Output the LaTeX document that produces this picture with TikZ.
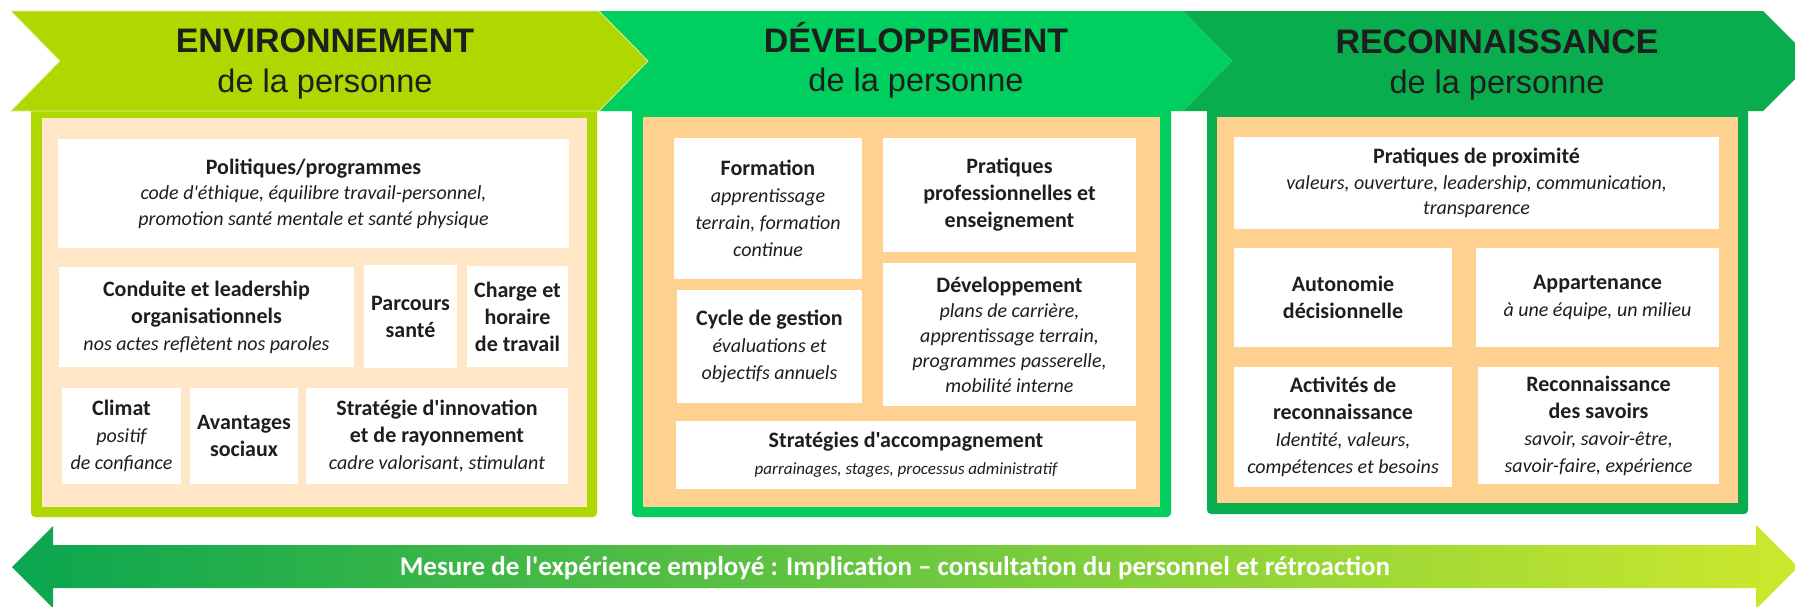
\documentclass[tikz,border=0pt]{standalone}
\usepackage{fontspec}
\newfontfamily\cellfont{Carlito}
\newfontfamily\headfont{Liberation Sans}

\definecolor{limeA}{RGB}{174,216,0}
\definecolor{greenB}{RGB}{0,206,94}
\definecolor{greenC}{RGB}{10,173,78}
\definecolor{peachA}{RGB}{255,231,200}
\definecolor{peachB}{RGB}{255,209,145}
\definecolor{ink}{RGB}{30,30,30}
\definecolor{arrowL}{RGB}{10,166,80}
\definecolor{arrowR}{RGB}{205,232,45}

\def\ttl#1{{\fontsize{22}{27}\selectfont\bfseries #1}}
\def\dsc#1{{\fontsize{20}{27}\selectfont\itshape #1}}

\tikzset{
	cell/.style={fill=white, inner sep=0pt, align=center, text=ink, font=\cellfont\fontsize{20}{27}\selectfont},
	headtitle/.style={anchor=base, text=ink, font=\headfont\bfseries\fontsize{34}{40}\selectfont},
	headsub/.style={anchor=base, text=ink, font=\headfont\fontsize{32.5}{40}\selectfont},
}

\begin{document}
\begin{tikzpicture}[x=1pt, y=-1pt]
			%%%%% START %%%%%
			\useasboundingbox (0, 0) rectangle (1795, 606);
			\clip (0, 0) rectangle (1795, 606);
			
			%%%%% panels
			\fill[limeA, rounded corners=4pt] (31, 100) rectangle (597, 517);
			\fill[peachA] (42, 118) rectangle (587, 507);
			
			\fill[greenB, rounded corners=4pt] (632, 100) rectangle (1171, 517);
			\fill[peachB] (643, 117) rectangle (1160, 507);
			
			\fill[greenC, rounded corners=4pt] (1207, 100) rectangle (1748, 514);
			\fill[peachB] (1217, 117) rectangle (1738, 503);
			
			%%%%% chevrons
			\fill[greenC] (1183, 11) -- (1763, 11) -- (1813, 61) -- (1763, 111) -- (1183, 111) -- (1232, 61) -- cycle;
			\fill[greenB] (599, 11) -- (1183, 11) -- (1232, 61) -- (1183, 111) -- (599, 111) -- (648, 61) -- cycle;
			\draw[fill=limeA, draw=limeA!40!white, line width=0.8pt] (11, 11) -- (599, 11) -- (648, 61) -- (599, 111) -- (11, 111) -- (60, 61) -- cycle;
			
			\node[headtitle] (envT) at (325, 52) {ENVIRONNEMENT};
			\node[headsub] (envS) at (325, 92) {de la personne};
			\node[headtitle] (devT) at (916, 52) {DÉVELOPPEMENT};
			\node[headsub] (devS) at (916, 91) {de la personne};
			\node[headtitle] (recT) at (1497, 53) {RECONNAISSANCE};
			\node[headsub] (recS) at (1497, 93) {de la personne};
			
			%%%%% environnement
			\node[cell, minimum width=511pt, minimum height=109pt, font=\cellfont\fontsize{20}{25.5}\selectfont] (polit) at (313.5, 193.5) {\ttl{Politiques/programmes}\\\dsc{code d'éthique, équilibre travail-personnel,}\\\dsc{promotion santé mentale et santé physique}};
			\node[cell, minimum width=295pt, minimum height=100pt] (conduite) at (206.5, 317) {\ttl{Conduite et leadership}\\\ttl{organisationnels}\\\dsc{nos actes reflètent nos paroles}};
			\node[cell, minimum width=93pt, minimum height=103pt] (parcours) at (410.5, 316.5) {\ttl{Parcours}\\\ttl{santé}};
			\node[cell, minimum width=101pt, minimum height=101pt] (charge) at (517.5, 316.5) {\ttl{Charge et}\\\ttl{horaire}\\\ttl{de travail}};
			\node[cell, minimum width=119pt, minimum height=96pt] (climat) at (121.5, 436) {\ttl{Climat}\\\dsc{positif}\\\dsc{de confiance}};
			\node[cell, minimum width=108pt, minimum height=96pt] (avantages) at (244, 436) {\ttl{Avantages}\\\ttl{sociaux}};
			\node[cell, minimum width=262pt, minimum height=96pt] (innov) at (437, 436) {\ttl{Stratégie d'innovation}\\\ttl{et de rayonnement}\\\dsc{cadre valorisant, stimulant}};
			
			%%%%% developpement
			\node[cell, minimum width=188pt, minimum height=141pt] (formation) at (768, 208.5) {\ttl{Formation}\\\dsc{apprentissage}\\\dsc{terrain, formation}\\\dsc{continue}};
			\node[cell, minimum width=253pt, minimum height=114pt] (pratiques) at (1009.5, 195) {\ttl{Pratiques}\\\ttl{professionnelles et}\\\ttl{enseignement}};
			\node[cell, minimum width=185pt, minimum height=113pt] (cycle) at (769.5, 346.5) {\ttl{Cycle de gestion}\\\dsc{évaluations et}\\\dsc{objectifs annuels}};
			\node[cell, minimum width=253pt, minimum height=143pt, font=\cellfont\fontsize{20}{25}\selectfont] (carriere) at (1009.5, 334.5) {{\fontsize{22}{25}\selectfont\bfseries Développement}\\{\fontsize{20}{25}\selectfont\itshape plans de carrière,}\\{\fontsize{20}{25}\selectfont\itshape apprentissage terrain,}\\{\fontsize{20}{25}\selectfont\itshape programmes passerelle,}\\{\fontsize{20}{25}\selectfont\itshape mobilité interne}};
			\node[cell, minimum width=460pt, minimum height=68pt] (accomp) at (906, 455) {\ttl{Stratégies d'accompagnement}\\{\fontsize{17}{27}\selectfont\itshape parrainages, stages, processus administratif}};
			
			%%%%% reconnaissance
			\node[cell, minimum width=485pt, minimum height=92pt, font=\cellfont\fontsize{20}{25.5}\selectfont] (proxi) at (1476.5, 183) {{\fontsize{22}{25.5}\selectfont\bfseries Pratiques de proximité}\\{\fontsize{20}{25.5}\selectfont\itshape valeurs, ouverture, leadership, communication,}\\{\fontsize{20}{25.5}\selectfont\itshape transparence}};
			\node[cell, minimum width=218pt, minimum height=99pt] (autonomie) at (1343, 297.5) {\ttl{Autonomie}\\\ttl{décisionnelle}};
			\node[cell, minimum width=243pt, minimum height=99pt] (appart) at (1597.5, 297.5) {\ttl{Appartenance}\\\dsc{à une équipe, un milieu}};
			\node[cell, minimum width=218pt, minimum height=120pt] (activites) at (1343, 427) {\ttl{Activités de}\\\ttl{reconnaissance}\\\dsc{Identité, valeurs,}\\\dsc{compétences et besoins}};
			\node[cell, minimum width=241pt, minimum height=117pt] (savoirs) at (1598.5, 425.5) {\ttl{Reconnaissance}\\\ttl{des savoirs}\\\dsc{savoir, savoir-être,}\\\dsc{savoir-faire, expérience}};
			
			%%%%% mesure
			\shade[left color=arrowL, right color=arrowR] (12, 567) -- (53, 526) -- (53, 545) -- (1756, 545) -- (1756, 525) -- (1798, 567) -- (1756, 609) -- (1756, 588) -- (53, 588) -- (53, 608) -- cycle;
			\node[anchor=base, text=white, font=\cellfont\bfseries\fontsize{27}{30}\selectfont] (mesure) at (895, 575) {Mesure de l'expérience employé : Implication – consultation du personnel et rétroaction};
			
			%%%%% END %%%%%
		\end{tikzpicture}
\end{document}
